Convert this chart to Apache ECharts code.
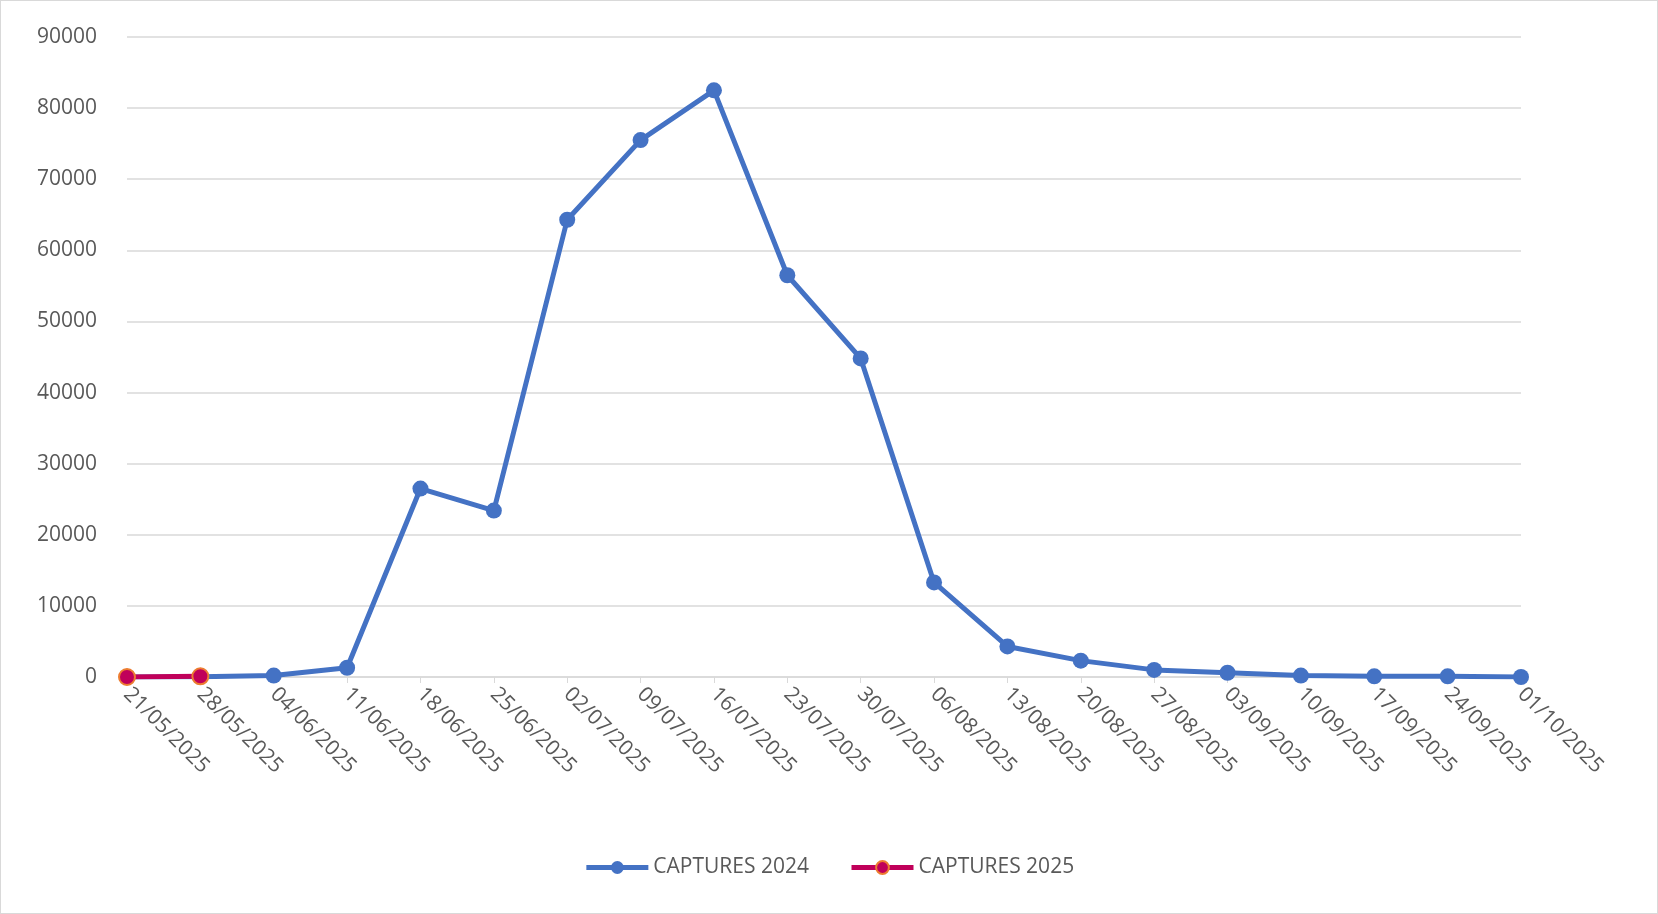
<!DOCTYPE html><html><head><meta charset="utf-8"><script src="https://cdn.jsdelivr.net/npm/echarts@6/dist/echarts.min.js"></script>
<style>html,body{margin:0;padding:0;background:#fff}#c{width:1658px;height:914px;box-sizing:border-box;border:1px solid #d9d9d9}</style></head><body><div id="c"></div><script>
const categories=["21/05/2025","28/05/2025","04/06/2025","11/06/2025","18/06/2025","25/06/2025","02/07/2025","09/07/2025","16/07/2025","23/07/2025","30/07/2025","06/08/2025","13/08/2025","20/08/2025","27/08/2025","03/09/2025","10/09/2025","17/09/2025","24/09/2025","01/10/2025"];
const captures2024=[0,50,200,1300,26500,23400,64300,75500,82500,56500,44800,13300,4300,2300,1000,600,200,100,100,0];
const captures2025=[0,100];
const chart=echarts.init(document.getElementById('c'));
chart.setOption({
animation:false,
textStyle:{fontFamily:'Open Sans, Noto Sans, sans-serif'},
grid:{left:126,right:136,top:36,bottom:236,containLabel:false},
legend:{bottom:30,left:'center',itemWidth:62,itemHeight:16,itemGap:40,textStyle:{fontSize:21,color:'#595959'},
lineStyle:{width:5},data:['CAPTURES 2024','CAPTURES 2025']},
xAxis:{type:'category',data:categories,boundaryGap:false,
axisLine:{lineStyle:{color:'#d9d9d9',width:1.5}},axisTick:{show:true,lineStyle:{color:'#d9d9d9'},length:6},
axisLabel:{rotate:-45,fontSize:21,color:'#595959',margin:14,interval:0,align:'left'}},
yAxis:{type:'value',min:0,max:90000,interval:10000,axisLine:{show:false},axisTick:{show:false},
splitLine:{lineStyle:{color:'#d9d9d9',width:1.5}},axisLabel:{fontSize:21,color:'#595959',margin:30,formatter:v=>String(v)}},
series:[
{name:'CAPTURES 2024',type:'line',data:captures2024,symbol:'circle',symbolSize:16,z:2,
lineStyle:{color:'#4472C4',width:5},itemStyle:{color:'#4472C4'}},
{name:'CAPTURES 2025',type:'line',data:captures2025,symbol:'circle',symbolSize:16,z:3,
lineStyle:{color:'#C0005A',width:5},itemStyle:{color:'#C0005A',borderColor:'#ED7D31',borderWidth:2}}
]});
</script></body></html>
